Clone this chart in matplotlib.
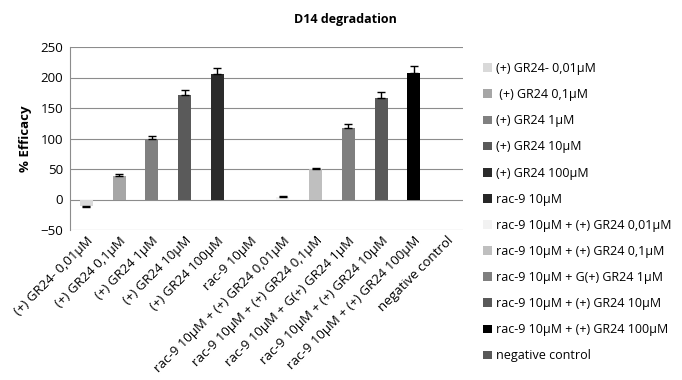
import matplotlib
matplotlib.use('Agg')
import matplotlib.pyplot as plt
from matplotlib.patches import Patch

plt.rcParams['font.family'] = ['Open Sans', 'DejaVu Sans']

# 数据
categories = ['(+) GR24- 0,01µM', '(+) GR24 0,1µM', '(+) GR24 1µM', '(+) GR24 10µM',
              '(+) GR24 100µM', 'rac-9 10µM', 'rac-9 10µM + (+) GR24 0,01µM',
              'rac-9 10µM + (+) GR24 0,1µM', 'rac-9 10µM + G(+) GR24 1µM',
              'rac-9 10µM + (+) GR24 10µM', 'rac-9 10µM + (+) GR24 100µM',
              'negative control']
legend_labels = ['(+) GR24- 0,01µM', ' (+) GR24 0,1µM', '(+) GR24 1µM', '(+) GR24 10µM',
                 '(+) GR24 100µM', 'rac-9 10µM', 'rac-9 10µM + (+) GR24 0,01µM',
                 'rac-9 10µM + (+) GR24 0,1µM', 'rac-9 10µM + G(+) GR24 1µM',
                 'rac-9 10µM + (+) GR24 10µM', 'rac-9 10µM + (+) GR24 100µM',
                 'negative control']
values = [-10, 39, 100, 171, 205, -1, 4, 50, 117, 167, 208, 0]
errors = [2, 2, 4, 8, 10, 0, 2, 1.5, 6, 9, 11, 0]
colors = ['#d9d9d9', '#a6a6a6', '#808080', '#5a5a5a', '#2b2b2b', '#262626',
          '#f2f2f2', '#bfbfbf', '#7f7f7f', '#595959', '#000000', '#595959']

fig = plt.figure(figsize=(6.82, 3.8), dpi=100)
ax = fig.add_axes([70 / 682, 1 - 230 / 380, 393 / 682, 183 / 380])

x = list(range(len(categories)))
ax.bar(x, values, width=0.4, color=colors, zorder=3)
# 误差线只画远离0的一侧（误差为0的不画）
ex = [i for i in x if errors[i] > 0]
lower = [errors[i] if values[i] < 0 else 0 for i in ex]
upper = [errors[i] if values[i] >= 0 else 0 for i in ex]
ax.errorbar(ex, [values[i] for i in ex], yerr=[lower, upper],
            fmt='none', ecolor='black', elinewidth=1, capsize=3, capthick=1, zorder=4)

ax.set_xlim(-0.5, len(categories) - 0.5)
ax.set_ylim(-50, 250)
ax.set_yticks(range(-50, 251, 50))
ax.yaxis.grid(True, color='#8c8c8c', linewidth=0.8, zorder=0)
ax.set_axisbelow(True)
ax.tick_params(axis='y', length=0, labelsize=9.5, pad=5)
ax.tick_params(axis='x', length=0, labelsize=9.5, pad=3)
ax.set_xticks(x)
ax.set_xticklabels(categories, rotation=45, ha='right', rotation_mode='anchor')
for s in ['top', 'right', 'bottom']:
    ax.spines[s].set_visible(False)
ax.spines['left'].set_color('#8c8c8c')
ax.set_ylabel('% Efficacy', fontsize=9.5, fontweight='bold', labelpad=6)

fig.text(345 / 682, 1 - 20 / 380, 'D14 degradation', fontsize=9, fontweight='bold',
         ha='center', va='center')

handles = [Patch(facecolor=c, edgecolor='none') for c in colors]
fig.legend(handles, legend_labels, loc='upper left', bbox_to_anchor=(478 / 682, 1 - 57 / 380),
           frameon=False, fontsize=9, handlelength=0.7, handleheight=0.7,
           handletextpad=0.3, labelspacing=1.05, borderaxespad=0)

fig.savefig('out.png', dpi=100)
